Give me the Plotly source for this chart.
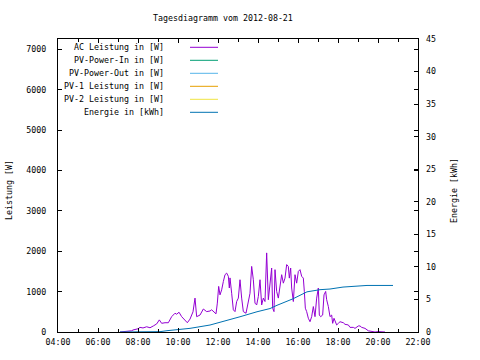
import plotly.graph_objects as go
from datetime import datetime

DAY = "2012-08-21"

# AC Leistung in [W]
ac_time = ["07:06","07:21","07:30","07:41","07:45","08:00","08:06","08:15","08:26","08:36",
           "08:46","08:56","09:04","09:11","09:21","09:31","09:41","09:51","09:56","10:03",
           "10:11","10:21","10:28","10:36","10:45","10:51","10:54","10:56","11:06","11:16",
           "11:26","11:36","11:41","11:48","11:54","11:58","12:02","12:06","12:11","12:16",
           "12:21","12:26","12:31","12:34","12:36","12:41","12:46","12:51","12:56","13:01",
           "13:06","13:11","13:16","13:24","13:31","13:36","13:41","13:46","13:51","13:56",
           "14:01","14:06","14:11","14:16","14:21","14:26","14:31","14:36","14:41","14:44",
           "14:48","14:51","14:56","15:01","15:06","15:11","15:16","15:21","15:26","15:31",
           "15:34","15:38","15:41","15:46","15:51","15:56","16:01","16:06","16:11","16:16",
           "16:19","16:22","16:26","16:31","16:36","16:41","16:46","16:51","16:56","17:01",
           "17:04","17:08","17:14","17:18","17:23","17:26","17:31","17:36","17:41","17:44",
           "17:48","17:56","18:01","18:06","18:16","18:21","18:31","18:36","18:46","18:51",
           "19:01","19:06","19:11","19:21","19:31","19:41","19:51","20:01","20:11","20:21"]
ac_watt = [0,10,25,30,50,80,115,100,130,105,
           150,200,300,215,230,230,380,465,440,490,
           380,280,230,320,500,840,600,380,420,570,
           505,520,550,505,450,715,1130,920,1045,1250,
           1420,1460,1380,1090,1340,960,550,505,755,840,
           1295,840,505,465,800,960,1625,1295,715,670,
           880,1295,670,840,755,1960,800,1130,1585,590,
           505,1545,1005,840,1170,1420,1210,1335,1670,1625,
           1335,1585,1090,755,1420,1210,1500,1545,1380,1335,
           1005,590,505,340,255,380,630,380,840,1090,
           420,380,420,920,1005,800,630,380,420,215,
           340,175,215,255,230,190,175,115,115,90,
           150,150,115,90,30,10,0,10,0,0]

# Energie in [kWh]
en_time = ["07:06","07:45","09:06","09:27","10:00","10:36","11:36","12:15","13:06","13:57",
           "14:36","14:57","15:45","16:27","17:06","17:36","18:15","19:27","20:45"]
en_kwh = [0,0,0.05,0.2,0.4,0.56,1.07,1.58,2.34,3.11,
          3.6,4.1,5.1,6.17,6.5,6.6,6.9,7.15,7.15]

legend_names = ["AC Leistung in [W]", "PV-Power-In in [W]", "PV-Power-Out in [W]",
                "PV-1 Leistung in [W]", "PV-2 Leistung in [W]", "Energie in [kWh]"]
legend_colors = ["#9400D3", "#009E73", "#56B4E9", "#E69F00", "#F0E442", "#0072B2"]

def ts(t):
    return datetime.strptime(DAY + " " + t, "%Y-%m-%d %H:%M")

FONT = "DejaVu Sans Mono"
FS = 8.3

fig = go.Figure()
fig.add_trace(go.Scatter(x=[ts(t) for t in ac_time], y=ac_watt, mode="lines",
                         line=dict(color=legend_colors[0], width=1), name=legend_names[0]))
fig.add_trace(go.Scatter(x=[ts(t) for t in en_time], y=en_kwh, mode="lines", yaxis="y2",
                         line=dict(color=legend_colors[5], width=1), name=legend_names[5]))

W, H = 480, 360
# plot area in page pixels: x 58..418, y 39..332
PL, PR, PT, PB = 58, 418, 39, 332
L, T = PL, PT
R, B = W - PR, H - PB
pw, ph = PR - PL, PB - PT

def px(x):
    return (x - PL) / pw

def py(y):
    return (PB - y) / ph

annotations = []
shapes = []
row_y = [47.3, 60.3, 73.3, 86.3, 99.3, 112.3]
for name, col, yy in zip(legend_names, legend_colors, row_y):
    annotations.append(dict(x=px(166), y=py(yy), xref="paper", yref="paper", text=name,
                            showarrow=False, xanchor="right", yanchor="middle",
                            font=dict(family=FONT, size=FS, color="black")))
    shapes.append(dict(type="line", xref="paper", yref="paper", x0=px(190), x1=px(218),
                       y0=py(yy), y1=py(yy), line=dict(color=col, width=1)))

annotations.append(dict(x=px(223), y=py(18), xref="paper", yref="paper",
                        text="Tagesdiagramm vom 2012-08-21", showarrow=False,
                        xanchor="center", yanchor="middle",
                        font=dict(family=FONT, size=FS, color="black")))
annotations.append(dict(x=px(9), y=py(190), xref="paper", yref="paper", text="Leistung [W]",
                        textangle=-90, showarrow=False, xanchor="center", yanchor="middle",
                        font=dict(family=FONT, size=FS, color="black")))
annotations.append(dict(x=px(454), y=py(191), xref="paper", yref="paper", text="Energie [kWh]",
                        textangle=-90, showarrow=False, xanchor="center", yanchor="middle",
                        font=dict(family=FONT, size=FS, color="black")))

fig.update_layout(
    width=W, height=H, autosize=False,
    margin=dict(l=L, r=R, t=T, b=B, pad=0),
    paper_bgcolor="white", plot_bgcolor="white",
    showlegend=False,
    font=dict(family=FONT, size=FS, color="black"),
    annotations=annotations, shapes=shapes,
    xaxis=dict(type="date", range=[ts("04:00"), ts("22:00")],
               dtick=2 * 3600 * 1000, tick0=ts("04:00"), tickformat="%H:%M",
               ticks="inside", ticklen=4, tickcolor="black", ticklabelstandoff=2,
               minor=dict(dtick=3600 * 1000, ticks="inside", ticklen=3, tickcolor="black"),
               showline=True, linecolor="black", linewidth=1, mirror="ticks",
               showgrid=False, zeroline=False),
    yaxis=dict(range=[0, 7260], dtick=1000, ticks="inside", ticklen=4, tickcolor="black",
               ticklabelstandoff=9,
               showline=True, linecolor="black", linewidth=1, mirror="ticks",
               showgrid=False, zeroline=False),
    yaxis2=dict(range=[0, 45], dtick=5, overlaying="y", side="right",
                ticks="inside", ticklen=4, tickcolor="black", ticklabelstandoff=7,
                showline=False, showgrid=False, zeroline=False),
)

fig.write_html("out.html", config={"displayModeBar": False},
               post_script="document.body.style.margin='0';document.body.style.padding='0';")
